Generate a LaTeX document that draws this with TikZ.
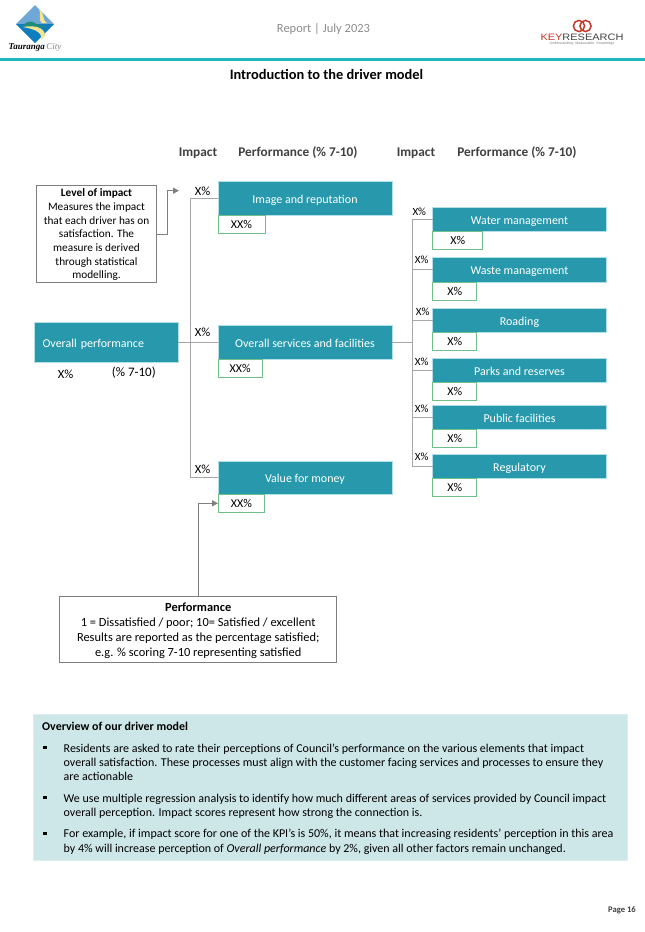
\documentclass[tikz,border=0pt]{standalone}
\usepackage{fontspec}
\setmainfont{Carlito}
\newfontfamily\logofont{Liberation Serif}
\newfontfamily\keyfont{Liberation Sans}
\usetikzlibrary{arrows.meta, positioning}
\definecolor{tealbox}{HTML}{2899AC}
\definecolor{tealedge}{HTML}{B5DFE6}
\definecolor{headbar}{HTML}{1FB8BE}
\definecolor{greenedge}{HTML}{6FBF8A}
\definecolor{linegray}{HTML}{A6A6A6}
\definecolor{boxgray}{HTML}{7F7F7F}
\definecolor{overfill}{HTML}{CDE6E8}
\definecolor{overedge}{HTML}{DCEFF0}
\definecolor{headtext}{HTML}{404040}
\definecolor{logoblue}{HTML}{0F7DBE}
\definecolor{logosky}{HTML}{6FA8D6}
\definecolor{logoyellow}{HTML}{F7E58E}
\definecolor{logogreen}{HTML}{1E8C78}
\definecolor{keyred}{HTML}{C0392B}
\begin{document}
\begin{tikzpicture}[
	x=1pt, y=-1pt,
	driver/.style={rectangle, draw=tealedge, fill=tealbox, text=white, anchor=north west, inner sep=0pt, outer sep=0pt, line width=0.6pt, text height=10pt, text depth=0pt, font=\fontsize{12}{14}\selectfont},
	score/.style={rectangle, draw=greenedge, fill=white, text=black, line width=0.9pt, inner sep=0pt, outer sep=0pt, minimum height=18pt, font=\fontsize{12}{14}\selectfont},
	note/.style={rectangle, draw=boxgray, fill=white, text=black, line width=0.9pt, inner sep=0pt, outer sep=0pt, align=center, text depth=0pt},
	link/.style={draw=linegray, line width=1pt},
	pointer/.style={draw=boxgray, line width=1pt, -{Triangle[length=6pt, width=6pt]}},
	pct/.style={font=\fontsize{12.5}{14}\selectfont, text=black, inner sep=0pt},
	pctsmall/.style={font=\fontsize{11}{13}\selectfont, text=black, inner sep=0pt},
	colhead/.style={font=\bfseries\fontsize{13.3}{15}\selectfont, text=headtext, inner sep=0pt},
	overtext/.style={anchor=north west, inner sep=0pt, align=left, text=black, font=\fontsize{12}{14.35}\selectfont},
	bullet/.style={fill=black, inner sep=0pt, minimum width=3.2pt, minimum height=3.6pt}
	]
	\useasboundingbox (0,0) rectangle (645,932);

	% page header
	\fill[logosky] (35,5) -- (54,24) -- (16,24) -- cycle;
	\fill[logoblue] (16,24) -- (54,24) -- (35,43) -- cycle;
	\fill[logoyellow] (39,9) .. controls (46,15) and (41,19) .. (47,23) -- (42,23) .. controls (37,18) and (42,14) .. (39,9) -- cycle;
	\fill[logogreen] (23,25) .. controls (29,20) and (33,21) .. (38,25) -- (48,27) -- (25,27) -- cycle;
	\fill[logoyellow] (23,27) .. controls (34,25) and (45,27) .. (45,36) -- (41,40) .. controls (43,32) and (34,29) .. (23,27) -- cycle;
	\node[inner sep=0pt, font=\logofont\fontsize{9}{10}\selectfont] (cityname) at (35,47.5) {\textbf{\textit{Tauranga}}\,\textcolor{gray}{\textit{City}}};
	\node[inner sep=0pt, text=black!45, font=\fontsize{12.5}{15}\selectfont] (report) at (323.5,29.5) {Report | July 2023};
	\draw[keyred, line width=1.5pt] (579,26) circle (5.6);
	\draw[keyred, line width=1.5pt] (585.5,26) circle (5.6);
	\node[inner sep=0pt, font=\keyfont] (keyname) at (582,37.5) {\resizebox{83pt}{6.5pt}{\textcolor{keyred}{KEY}\textcolor{black!75}{RESEARCH}}};
	\node[inner sep=0pt, text=gray, font=\keyfont\fontsize{3.6}{4}\selectfont] (keytag) at (582,43.3) {Understanding. Measurable. Knowledge};
	\fill[headbar] (0,58.3) rectangle (645,60.8);
	\node[inner sep=0pt, font=\bfseries\fontsize{14.4}{16}\selectfont] (title) at (326.5,74) {Introduction to the driver model};

	% column headings
	\node[colhead] (headimpa) at (198,153) {Impact};
	\node[colhead] (headperfa) at (298,153) {Performance (\% 7-10)};
	\node[colhead] (headimpb) at (416,153) {Impact};
	\node[colhead] (headperfb) at (517,153) {Performance (\% 7-10)};

	% left hand drivers
	\node[driver, text width=127pt, inner xsep=8.5pt, align=left, minimum height=40pt] (overall) at (34,322) {Overall performance};
	\node[driver, minimum width=174pt, minimum height=33.3pt] (image) at (218,181.7) {Image and reputation};
	\node[driver, minimum width=174pt, minimum height=33.3pt] (services) at (218,325.7) {Overall services and facilities};
	\node[driver, minimum width=174pt, minimum height=33pt] (value) at (218,461.3) {Value for money};
	\node[score, minimum width=47pt, below right=0pt and 0pt of image.south west] (imagescore) {XX\%};
	\node[score, minimum width=44.5pt, below right=0pt and 0pt of services.south west] (servicesscore) {XX\%};
	\node[score, minimum width=46.7pt, below right=0pt and 0pt of value.south west] (valuescore) {XX\%};

	% right hand drivers
	\node[driver, minimum width=173.6pt, minimum height=24.6pt] (water) at (432.7,207) {Water management};
	\node[driver, minimum width=173.6pt, minimum height=24.3pt] (waste) at (432.7,257.7) {Waste management};
	\node[driver, minimum width=173.6pt, minimum height=24.3pt] (roading) at (432.7,308) {Roading};
	\node[driver, minimum width=173.6pt, minimum height=24.3pt] (parks) at (432.7,358) {Parks and reserves};
	\node[driver, minimum width=173.6pt, minimum height=24.3pt] (public) at (432.7,405.3) {Public facilities};
	\node[driver, minimum width=173.6pt, minimum height=24.3pt] (regulatory) at (432.7,454.3) {Regulatory};
	\node[score, minimum width=50pt, below right=0pt and 0pt of water.south west] (waterscore) {X\%};
	\node[score, minimum width=44pt, below right=0pt and 0pt of waste.south west] (wastescore) {X\%};
	\node[score, minimum width=44pt, below right=0pt and 0pt of roading.south west] (roadingscore) {X\%};
	\node[score, minimum width=44pt, below right=0pt and 0pt of parks.south west] (parksscore) {X\%};
	\node[score, minimum width=44pt, below right=0pt and 0pt of public.south west] (publicscore) {X\%};
	\node[score, minimum width=44pt, below right=0pt and 0pt of regulatory.south west] (regulatoryscore) {X\%};

	% explanation boxes
	\node[note, anchor=north west, minimum width=120pt, minimum height=96.5pt, font=\fontsize{11.3}{13.67}\selectfont] (impactnote) at (36.5,185.5) {\textbf{Level of impact}\\Measures the impact\\that each driver has on\\satisfaction. The\\measure is derived\\through statistical\\modelling.};
	\node[note, anchor=north west, minimum width=277pt, minimum height=66pt, font=\fontsize{12.4}{15.3}\selectfont] (perfnote) at (59.7,596.7) {\textbf{Performance}\\1 = Dissatisfied / poor; 10= Satisfied / excellent\\Results are reported as the percentage satisfied;\\e.g. \% scoring 7-10 representing satisfied};

	% impact and performance figures
	\node[pct] (pctimage) at (202.7,191) {X\%};
	\node[pct] (pctservices) at (202.7,332) {X\%};
	\node[pct] (pctvalue) at (202.7,469.3) {X\%};
	\node[pct] (pctoverall) at (65.6,374) {X\%};
	\node[pct, font=\fontsize{13}{15}\selectfont] (rangeoverall) at (133.8,372.5) {(\% 7-10)};
	\node[pctsmall] (pctwater) at (419.3,211.7) {X\%};
	\node[pctsmall] (pctwaste) at (421.7,260) {X\%};
	\node[pctsmall] (pctroading) at (422.7,311.7) {X\%};
	\node[pctsmall] (pctparks) at (421.7,361.7) {X\%};
	\node[pctsmall] (pctpublic) at (421.7,409) {X\%};
	\node[pctsmall] (pctregulatory) at (421.7,456.7) {X\%};

	% connectors
	\coordinate (trunka) at (190,342);
	\coordinate (trunkb) at (412,342.3);
	\draw[link] (overall.east |- trunka) -- (services.west |- trunka);
	\draw[link] (image.west) -- (trunka |- image.west) -- (trunka |- value.west) -- (value.west);
	\draw[link] (services.east |- trunkb) -- (trunkb);
	\draw[link] (water.west) -- (trunkb |- water.west) -- (trunkb |- regulatory.west) -- (regulatory.west);
	\foreach \name in {waste, roading, parks, public}
		\draw[link] (\name.west) -- (trunkb |- \name.west);
	\coordinate (impacttip) at (179,190.7);
	\draw[pointer] (impactnote.east |- 0,234) -| ++(11,-43.3) -- (impacttip);
	\draw[pointer] (perfnote.north -| 198,0) |- (valuescore.west);

	% overview panel
	\fill[overfill] (33,714) rectangle (627,860);
	\draw[overedge, line width=0.8pt] (33,714) rectangle (627,860);
	\node[overtext, font=\bfseries\fontsize{11.9}{14}\selectfont] (overviewhead) at (42,721.5) {Overview of our driver model};
	\node[overtext] (pointa) at (63.5,743.5) {Residents are asked to rate their perceptions of Council’s performance on the various elements that impact\\overall satisfaction. These processes must align with the customer facing services and processes to ensure they\\are actionable};
	\node[overtext] (pointb) at (63.5,793.5) {We use multiple regression analysis to identify how much different areas of services provided by Council impact\\overall perception. Impact scores represent how strong the connection is.};
	\node[overtext] (pointc) at (63.5,829) {For example, if impact score for one of the KPI’s is 50\%, it means that increasing residents' perception in this area\\by 4\% will increase perception of \textit{Overall performance} by 2\%, given all other factors remain unchanged.};
	\node[bullet] (bulleta) at (45,747.3) {};
	\node[bullet] (bulletb) at (45,797.3) {};
	\node[bullet] (bulletc) at (45,833.3) {};
	\node[inner sep=0pt, text=headtext, font=\bfseries\fontsize{8.6}{10}\selectfont] (pagenum) at (622,910.5) {Page 16};
\end{tikzpicture}
\end{document}
